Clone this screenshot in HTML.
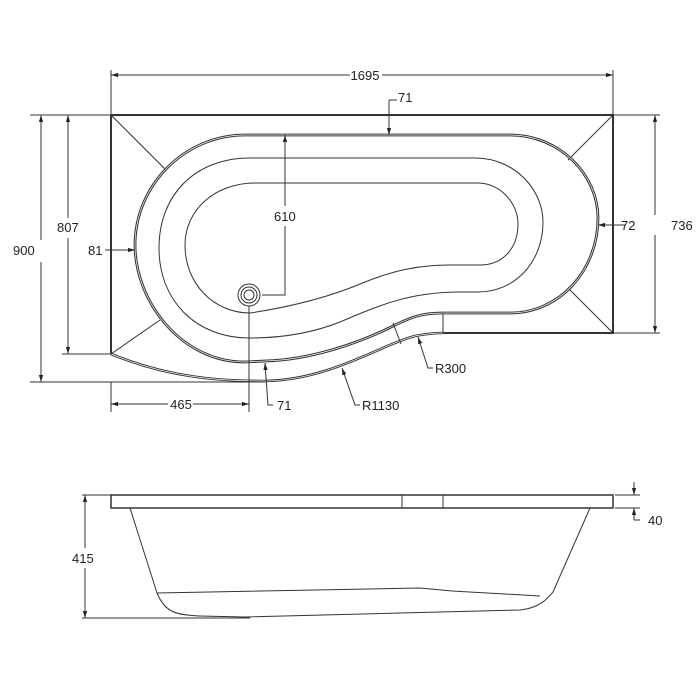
<!DOCTYPE html>
<html><head><style>body{margin:0;background:#fff}svg{display:block}text{font-family:"Liberation Sans",sans-serif;font-size:13px;fill:#222}</style></head><body>
<svg width="700" height="700" viewBox="0 0 700 700" xmlns="http://www.w3.org/2000/svg">
<defs><marker id="a" viewBox="0 0 10 10" refX="10" refY="5" markerWidth="7" markerHeight="7" orient="auto-start-reverse"><path d="M0,2 L10,5 L0,8 z" fill="#222"/></marker></defs>
<g stroke="#333" fill="none" stroke-width="1">
<path d="M111,115 L613,115 L613,333 L443,333 M111,115 L111,354" stroke-width="2"/>
<path id="oc" d="M111,354 C170,378 220,381 265,381 C330,380 380,345 415,336 C425,334 435,333 443,333" stroke-width="2.6"/>
<path d="M111,354 C170,378 220,381 265,381 C330,380 380,345 415,336 C425,334 435,333 443,333" stroke="#fff" stroke-width="0.7"/>
<path d="M443,313 L443,333"/>
<path d="M111,115 L166,170 M613,115 L568,160 M613,333 L568,288 M111,354 L160,320"/>
<path d="M245,135 L510,135 C560,135 598,175 598,218 C598,270 560,313 510,313 L443,313 C420,313 410,318 395,325 C360,343 310,360 265,361 L245,362 C180,362 135,300 135,245 C135,185 185,135 245,135 Z" stroke-width="2.8"/>
<path d="M245,135 L510,135 C560,135 598,175 598,218 C598,270 560,313 510,313 L443,313 C420,313 410,318 395,325 C360,343 310,360 265,361 L245,362 C180,362 135,300 135,245 C135,185 185,135 245,135 Z" stroke="#fff" stroke-width="0.7"/>
<path d="M250,158 L475,158 C515,158 543,190 543,222 C543,262 515,292 478,292 L460,292 C410,292 380,305 340,322 C310,334 280,338 250,338 C195,338 159,300 159,248 C159,195 195,158 250,158 Z"/>
<path d="M255,183 L478,183 C500,183 518,203 518,224 C518,248 503,265 480,265 L450,265 C420,265 395,270 365,282 C330,297 290,307 250,313 C215,313 185,285 185,245 C185,210 215,183 255,183 Z"/>
<circle cx="249" cy="295" r="11"/><circle cx="249" cy="295" r="8"/><circle cx="249" cy="295" r="5"/>
<path d="M393,323 L401,344"/>
<path d="M111,70 L111,115 M613,70 L613,115"/>
<path d="M111,75 L350,75" marker-start="url(#a)"/><path d="M382,75 L613,75" marker-end="url(#a)"/>
<path d="M389,100 L389,135" marker-end="url(#a)"/><path d="M389,100 L397,100"/>
<path d="M30,115 L111,115 M30,382 L265,382 M62,354 L111,354"/>
<path d="M41,115 L41,240" marker-start="url(#a)"/><path d="M41,262 L41,382" marker-end="url(#a)"/>
<path d="M68,115 L68,218" marker-start="url(#a)"/><path d="M68,238 L68,354" marker-end="url(#a)"/>
<path d="M105,250 L135,250" marker-end="url(#a)"/>
<path d="M625,225 L598,225" marker-end="url(#a)"/>
<path d="M613,115 L660,115 M613,333 L660,333"/>
<path d="M655,115 L655,215" marker-start="url(#a)"/><path d="M655,235 L655,333" marker-end="url(#a)"/>
<path d="M285,135 L285,206" marker-start="url(#a)"/><path d="M285,226 L285,295 L262,295"/>
<path d="M111,382 L111,412 M249,306 L249,412"/>
<path d="M111,404 L168,404" marker-start="url(#a)"/><path d="M193,404 L249,404" marker-end="url(#a)"/>
<path d="M273,405 L268,405 L265,363" marker-end="url(#a)"/>
<path d="M360,405 L355,405 L342,368" marker-end="url(#a)"/>
<path d="M433,368 L428,368 L418,337" marker-end="url(#a)"/>
<rect x="111" y="495" width="502" height="13" stroke-width="1.5"/>
<path d="M402,495 L402,508 M443,495 L443,508"/>
<path d="M130,508 L157,593 C165,612 175,615 200,616 L245,617 L520,610 C540,608 548,598 553,592 L590,508"/>
<path d="M157,593 L420,588 L452,591 L540,596"/>
<path d="M82,495 L111,495 M82,618 L250,618"/>
<path d="M85,495 L85,548" marker-start="url(#a)"/><path d="M85,568 L85,618" marker-end="url(#a)"/>
<path d="M615,495 L640,495 M615,508 L640,508"/>
<path d="M634,482 L634,495" marker-end="url(#a)"/><path d="M634,520 L634,508" marker-end="url(#a)"/><path d="M634,520 L640,520"/>
</g>
<text x="365" y="80" text-anchor="middle">1695</text>
<text x="398" y="102">71</text>
<text x="13" y="255">900</text>
<text x="57" y="232">807</text>
<text x="88" y="255">81</text>
<text x="621" y="230">72</text>
<text x="671" y="230">736</text>
<text x="274" y="221">610</text>
<text x="181" y="409" text-anchor="middle">465</text>
<text x="277" y="410">71</text>
<text x="362" y="410">R1130</text>
<text x="435" y="373">R300</text>
<text x="72" y="563">415</text>
<text x="648" y="525">40</text>
</svg>
</body></html>
